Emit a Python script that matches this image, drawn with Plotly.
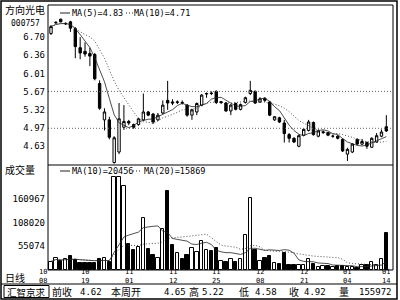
import plotly.graph_objects as go
import pandas as pd

# ---------------- data ----------------
opens = [6.77, 6.97, 7.04, 6.95, 6.99, 6.86, 6.50, 6.43, 6.39, 6.37,
         5.82, 5.13, 5.13, 4.32, 4.52, 4.99, 5.10, 5.04, 5.04, 5.13,
         5.28, 5.24, 5.13, 5.26, 5.50, 5.47, 5.46, 5.46, 5.41, 5.22,
         5.28, 5.41, 5.62, 5.64, 5.67, 5.46, 5.45, 5.30, 5.44, 5.33,
         5.46, 5.63, 5.67, 5.47, 5.54, 5.47, 5.13, 5.17, 5.07, 4.85,
         4.78, 4.63, 4.84, 4.93, 5.08, 4.82, 4.89, 4.89, 4.82, 4.82,
         4.76, 4.48, 4.52, 4.76, 4.67, 4.70, 4.61, 4.71, 4.82, 5.00]
highs = [6.93, 7.00, 7.05, 6.98, 7.01, 6.89, 6.70, 6.60, 6.50, 6.40,
         5.88, 5.35, 5.19, 4.82, 5.45, 5.41, 5.13, 5.06, 5.17, 5.63,
         5.30, 5.26, 5.26, 5.50, 5.87, 5.52, 5.50, 5.50, 5.43, 5.34,
         5.46, 5.62, 5.65, 5.67, 5.69, 5.49, 5.47, 5.43, 5.46, 5.44,
         5.57, 5.87, 5.69, 5.56, 5.56, 5.49, 5.20, 5.19, 5.13, 4.88,
         4.80, 4.85, 4.97, 5.13, 5.10, 4.95, 4.93, 4.90, 4.85, 4.84,
         4.78, 4.60, 4.69, 4.78, 4.77, 4.72, 4.80, 4.88, 4.95, 5.22]
lows = [6.74, 6.95, 6.98, 6.93, 6.80, 6.30, 6.28, 6.33, 6.15, 5.88,
        5.32, 4.93, 4.76, 4.30, 4.48, 4.94, 5.03, 4.96, 5.02, 5.11,
        5.20, 5.05, 5.11, 5.24, 5.32, 5.41, 5.43, 5.42, 5.19, 5.13,
        5.22, 5.39, 5.55, 5.60, 5.43, 5.43, 5.28, 5.22, 5.31, 5.31,
        5.44, 5.60, 5.43, 5.45, 5.47, 5.20, 5.11, 5.07, 4.70, 4.70,
        4.69, 4.61, 4.82, 4.91, 4.83, 4.80, 4.86, 4.82, 4.79, 4.76,
        4.52, 4.35, 4.50, 4.65, 4.65, 4.58, 4.60, 4.70, 4.80, 4.90]
closes = [6.90, 6.98, 6.99, 6.96, 6.87, 6.52, 6.40, 6.38, 6.34, 5.91,
          5.35, 5.28, 4.80, 4.79, 5.15, 5.10, 5.07, 4.99, 5.15, 5.28,
          5.22, 5.09, 5.22, 5.41, 5.45, 5.45, 5.47, 5.45, 5.22, 5.32,
          5.44, 5.60, 5.63, 5.63, 5.46, 5.47, 5.30, 5.41, 5.33, 5.42,
          5.55, 5.69, 5.45, 5.53, 5.50, 5.22, 5.19, 5.09, 4.87, 4.78,
          4.71, 4.83, 4.95, 5.09, 4.85, 4.92, 4.90, 4.84, 4.82, 4.78,
          4.54, 4.57, 4.67, 4.67, 4.72, 4.63, 4.78, 4.83, 4.90, 4.92]
volumes = [19300, 28400, 20900, 25400, 30700, 23200, 15700, 15700, 15700, 17000,
           24700, 27000, 19300, 212400, 211000, 191300, 59500, 45900, 53400, 117900,
           47500, 34500, 27700, 92900, 180000, 57300, 38400, 24800, 34500, 49800,
           40000, 64800, 45900, 44300, 49700, 20900, 19300, 24800, 19300, 24800,
           80000, 164000, 45900, 20900, 27000, 32300, 15700, 13400, 38400, 11800,
           11800, 11800, 11800, 24800, 14100, 5700, 8000, 8000, 5700, 8000,
           9500, 5700, 6800, 4300, 11800, 11800, 19300, 11800, 24800, 83800]

date_tick_idx = [0, 7, 16, 25, 34, 43, 52, 61, 69]
date_tick_month = ["10", "10", "11", "11", "11", "12", "12", "01", "01"]
date_tick_day = ["08", "19", "01", "12", "25", "08", "21", "04", "14"]

price_ticks = [4.63, 4.97, 5.32, 5.67, 6.01, 6.36, 6.70]
price_tick_text = ["4.63", "4.97", "5.32", "5.67", "6.01", "6.36", "6.70"]
price_grid = [4.97, 5.67]
vol_ticks = [55074, 108020, 160967]
vol_tick_text = ["55074", "108020", "160967"]

stock_name = "方向光电"
stock_code = "000757"
price_ma_text = ["MA(5)=4.83", "MA(10)=4.71"]
vol_ma_text = ["MA(10)=20456", "MA(20)=15869"]
info_labels = ["前收", "本周开", "高", "低", "收", "量"]
info_values = ["4.62", "4.65", "5.22", "4.58", "4.92", "155972"]

# ---------------- geometry ----------------
W, H = 400, 300
L, R, T, B = 48, 393, 5, 270
MID = 165
PW, PH = R - L, B - T


def px(x):
    return (x - L) / PW


def py(y):
    return (B - y) / PH


split = py(MID)
idx = list(range(len(closes)))

cs = pd.Series(closes)
vs = pd.Series(volumes)
ma5 = cs.rolling(5, min_periods=1).mean()
ma10 = cs.rolling(10, min_periods=1).mean()
vma10 = vs.rolling(10, min_periods=1).mean()
vma20 = vs.rolling(20, min_periods=1).mean()

mono = "DejaVu Sans Mono"
cjk = "Noto Sans CJK SC"
DOT = "1px,2px"

fig = go.Figure()
fig.add_trace(go.Candlestick(
    x=idx, open=opens, high=highs, low=lows, close=closes,
    increasing=dict(line=dict(color="black", width=1), fillcolor="white"),
    decreasing=dict(line=dict(color="black", width=1), fillcolor="black"),
    whiskerwidth=0, xaxis="x", yaxis="y", showlegend=False, hoverinfo="skip"))
fig.add_trace(go.Scatter(x=idx, y=ma5, mode="lines", line=dict(color="#222", width=0.8),
                         xaxis="x", yaxis="y", showlegend=False, hoverinfo="skip"))
fig.add_trace(go.Scatter(x=idx, y=ma10, mode="lines", line=dict(color="#222", width=0.8, dash=DOT),
                         xaxis="x", yaxis="y", showlegend=False, hoverinfo="skip"))

bar_colors = ["white" if c >= o else "black" for o, c in zip(opens, closes)]
fig.add_trace(go.Bar(x=idx, y=volumes, width=0.7, marker=dict(color=bar_colors, line=dict(color="black", width=1)),
                     xaxis="x2", yaxis="y2", showlegend=False, hoverinfo="skip"))
fig.add_trace(go.Scatter(x=idx, y=vma10, mode="lines", line=dict(color="#222", width=0.8),
                         xaxis="x2", yaxis="y2", showlegend=False, hoverinfo="skip"))
fig.add_trace(go.Scatter(x=idx, y=vma20, mode="lines", line=dict(color="#222", width=0.8, dash=DOT),
                         xaxis="x2", yaxis="y2", showlegend=False, hoverinfo="skip"))

xr = [-0.62, 70.37]
# price scale: 4.97 at y=128.3, 52.7 px per unit
p_top = 4.97 + (128.3 - T) / 52.7
p_bot = 4.97 - (MID - 128.3) / 52.7
v_per_px = 52947 / 23.3
v_top = (B - MID) * v_per_px

tickfont = dict(family=mono, size=9, color="black")
fig.update_layout(
    width=W, height=H, margin=dict(l=L, r=W - R, t=T, b=H - B),
    paper_bgcolor="white", plot_bgcolor="white", bargap=0,
    xaxis=dict(domain=[0, 1], range=xr, anchor="y", showticklabels=False, showgrid=False,
               zeroline=False, rangeslider=dict(visible=False), fixedrange=True),
    xaxis2=dict(domain=[0, 1], range=xr, anchor="y2", matches="x", showticklabels=False,
                showgrid=False, zeroline=False),
    yaxis=dict(domain=[split, 1], range=[p_bot, p_top], tickvals=price_ticks, ticktext=price_tick_text,
               tickfont=tickfont, showgrid=False, zeroline=False, ticks="", ticklabelstandoff=2),
    yaxis2=dict(domain=[0, split], range=[0, v_top], tickvals=vol_ticks, ticktext=vol_tick_text,
                tickfont=tickfont, showgrid=False, zeroline=False, ticks="", ticklabelstandoff=2),
)

shapes = []
line_k = dict(color="black", width=1)
# dotted price grid lines
for g in price_grid:
    shapes.append(dict(type="line", xref="paper", yref="y", x0=0, x1=1, y0=g, y1=g,
                       line=dict(color="#666", width=1, dash=DOT)))
# frames
shapes.append(dict(type="rect", xref="paper", yref="paper", x0=0, x1=1, y0=0, y1=1, line=line_k))
shapes.append(dict(type="line", xref="paper", yref="paper", x0=0, x1=1, y0=split, y1=split, line=line_k))
shapes.append(dict(type="rect", xref="paper", yref="paper", x0=px(1), x1=px(397), y0=py(1), y1=py(299),
                   line=dict(color="black", width=1.5)))
shapes.append(dict(type="line", xref="paper", yref="paper", x0=px(1), x1=px(397), y0=py(284), y1=py(284),
                   line=line_k))
shapes.append(dict(type="rect", xref="paper", yref="paper", x0=px(4), x1=px(49), y0=py(285.5), y1=py(297.5),
                   line=line_k))
# legend markers
for (x0, x1, yy, dash) in [(60, 70, 13, None), (126, 133, 13, DOT), (60, 70, 171, None), (133, 142, 171, DOT)]:
    ln = dict(color="#222", width=1)
    if dash:
        ln["dash"] = dash
    shapes.append(dict(type="line", xref="paper", yref="paper", x0=px(x0), x1=px(x1), y0=py(yy), y1=py(yy), line=ln))

ann = []


def text(t, x, y, size=9, family=mono, xanchor="center", yanchor="middle"):
    ann.append(dict(text=t, xref="paper", yref="paper", x=px(x), y=py(y), xanchor=xanchor, yanchor=yanchor,
                    showarrow=False, borderpad=0,
                    font=dict(family=family, size=size, color="black")))


text(stock_name, 25, 18.5, 10, cjk, "center", "bottom")
text(stock_code, 25, 18.5, 8, mono, "center", "top")
text("成交量", 4, 169, 10, cjk, "left")
text("日线", 4, 277, 10, cjk, "left")
text(price_ma_text[0], 71, 13, 8.5, mono, "left")
text(price_ma_text[1], 133, 13, 8.5, mono, "left")
text(vol_ma_text[0], 71, 171, 8.5, mono, "left")
text(vol_ma_text[1], 143, 171, 8.5, mono, "left")

for i, m, d in zip(date_tick_idx, date_tick_month, date_tick_day):
    xx = 51 + 4.86 * i
    if i == 0:
        xx = 43
    text(m + "<br>" + d, xx, 276.8, 7)

text("汇智京求", 26.5, 291.5, 9.5, cjk)
label_x = [62, 126, 194, 244, 294, 344]
value_x = [103, 187, 225, 278, 327, 393]
for lab, lx in zip(info_labels, label_x):
    text(lab, lx, 291.5, 10, cjk)
for val, vx in zip(info_values, value_x):
    text(val, vx, 291.5, 9, mono, "right")

fig.update_layout(shapes=shapes, annotations=ann)
fig.write_html("out.html")
